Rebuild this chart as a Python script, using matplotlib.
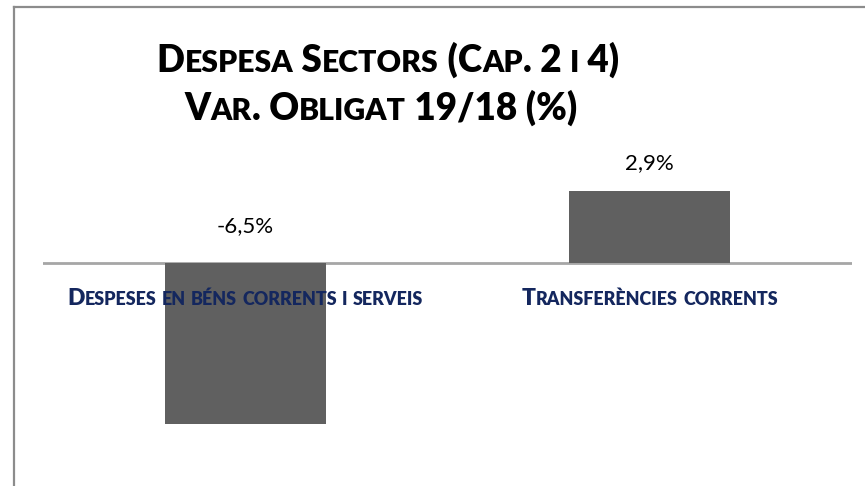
import matplotlib
matplotlib.use('Agg')
import matplotlib.pyplot as plt
from matplotlib.transforms import IdentityTransform
from matplotlib.lines import Line2D

# Dades
categories = ['Despeses en béns corrents i serveis', 'Transferències corrents']
valors = [-6.5, 2.9]
etiquetes = ['-6,5%', '2,9%']
titol = ['Despesa Sectors (Cap. 2 i 4)', 'Var. Obligat 19/18 (%)']

W, H = 865, 486
fig = plt.figure(figsize=(W / 100, H / 100), dpi=100)
plt.rcParams['font.family'] = ['Lato', 'DejaVu Sans']

# Eixos: zero a y=263 px, 24.8 px per unitat
ymin, ymax = -8, 4
zero_px, escala = 263, 24.8
top_px = zero_px - ymax * escala
bot_px = zero_px - ymin * escala
x0_px, x1_px = 43, 852
ax = fig.add_axes([x0_px / W, 1 - bot_px / H, (x1_px - x0_px) / W, (bot_px - top_px) / H])

x = list(range(len(categories)))
ax.bar(x, valors, width=0.397, color='#606060', zorder=2)
ax.axhline(0, color='#a6a6a6', lw=2, zorder=1)
ax.set_xlim(-0.5, 1.5)
ax.set_ylim(ymin, ymax)
ax.axis('off')

# etiquetes de valor
for i, v in enumerate(valors):
    off = 28 if v > 0 else 37
    ax.annotate(etiquetes[i], (i, max(v, 0)), xytext=(0, off), textcoords='offset pixels',
                ha='center', va='center', fontsize=16, color='black')

# marc del gràfic
fig.add_artist(Line2D([13.5 / W, 1], [1 - 7.5 / H] * 2, color='#8c8c8c', lw=1.6))
fig.add_artist(Line2D([13.5 / W] * 2, [0, 1 - 7.5 / H], color='#8c8c8c', lw=1.6))

renderer = fig.canvas.get_renderer()


def amplada(s, size, pes):
    t = fig.text(0, 0, '|' + s + '|', fontsize=size, fontweight=pes)
    w = t.get_window_extent(renderer).width
    t.remove()
    t = fig.text(0, 0, '||', fontsize=size, fontweight=pes)
    w -= t.get_window_extent(renderer).width
    t.remove()
    return w


def versaletes(s, cx, base_y, size, color, ratio=0.8, pes='bold'):
    # trossos amb majúscules grans i petites
    trossos = []
    for c in s:
        gran = not c.islower()
        mida = size if gran else size * ratio
        if trossos and trossos[-1][1] == mida:
            trossos[-1][0] += c.upper()
        else:
            trossos.append([c.upper(), mida])
    amples = [amplada(t, m, pes) for t, m in trossos]
    xx = cx - sum(amples) / 2
    for (t, m), w in zip(trossos, amples):
        fig.text(xx, H - base_y, t, fontsize=m, fontweight=pes, color=color,
                 ha='left', va='baseline', transform=IdentityTransform())
        xx += w


versaletes(titol[0], 388, 72, 26.5, 'black', ratio=0.82, pes='heavy')
versaletes(titol[1], 381, 120, 26.5, 'black', ratio=0.82, pes='heavy')
cat_x = [245, 650]
for i, c in enumerate(categories):
    versaletes(c, cat_x[i], 305, 16.5, '#14275e', ratio=0.78, pes='heavy')

fig.savefig('out.png', dpi=100)
